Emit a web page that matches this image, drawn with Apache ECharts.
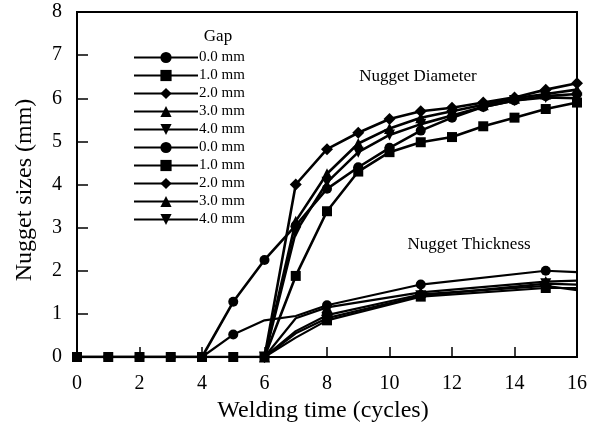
<!DOCTYPE html>
<html><head><meta charset="utf-8">
<script src="https://cdn.jsdelivr.net/npm/echarts@6/dist/echarts.min.js"></script>
<style>html,body{margin:0;padding:0;background:#fff}#c{width:592px;height:427px}</style>
</head><body><div id="c"></div>
<script>
// Diameter data (welding time in cycles, nugget diameter in mm)
const diamCycles0 = [0,1,2,3,4,5,6,7,8,9,10,11,12,13,14,15,16];
const diam00 = [0,0,0,0,0,1.28,2.25,3.05,3.9,4.4,4.85,5.25,5.55,5.8,5.95,6.05,6.1];
const diam10 = [0,0,0,0,0,0,0,1.88,3.38,4.3,4.75,4.98,5.1,5.35,5.55,5.75,5.9];
const diamCycles6 = [6,7,8,9,10,11,12,13,14,15,16];
const diam20 = [0,4.0,4.82,5.2,5.52,5.7,5.78,5.9,6.02,6.2,6.35];
const diam30 = [0,3.15,4.25,4.95,5.3,5.55,5.7,5.85,6.0,6.1,6.2];
const diam40 = [0,2.9,4.05,4.75,5.15,5.4,5.6,5.8,5.95,6.02,6.0];
// Thickness data
const thickCycles0 = [4,5,6,7,8,11,15,16];
const thick00 = [0,0.52,0.85,0.95,1.2,1.68,2.0,1.97];
const thickCycles6 = [6,7,8,11,15,16];
const thick10 = [0,0.45,0.85,1.4,1.6,1.6];
const thick20 = [0,0.6,0.97,1.45,1.65,1.55];
const thick30 = [0,0.9,1.15,1.5,1.75,1.77];
const thick40 = [0,0.55,0.9,1.42,1.7,1.68];
const thickMarked = [4,5,8,11,15];
const gapLabels = ['0.0 mm','1.0 mm','2.0 mm','3.0 mm','4.0 mm'];

const FONT = '"Liberation Serif","Times New Roman",serif';
const downTri = 'path://M0,0L2,0L1,1.8Z';
const symbols = ['circle','rect','diamond','triangle',downTri];
const symSizes = [10,10,12,11,11];

function pairs(xs, ys){ return xs.map((x,i)=>[x, ys[i]]); }
function thickPairs(xs, ys){ return xs.map((x,i)=> thickMarked.indexOf(x)>=0 ? [x,ys[i]] : {value:[x,ys[i]], symbol:'none'}); }

const diamSets = [pairs(diamCycles0,diam00), pairs(diamCycles0,diam10), pairs(diamCycles6,diam20), pairs(diamCycles6,diam30), pairs(diamCycles6,diam40)];
const thickSets = [thickPairs(thickCycles0,thick00), thickPairs(thickCycles6,thick10), thickPairs(thickCycles6,thick20), thickPairs(thickCycles6,thick30), thickPairs(thickCycles6,thick40)];

const series = [];
const legendNames = [];
diamSets.forEach((d,i)=>{
  const name = 'D ' + gapLabels[i];
  legendNames.push(name);
  series.push({type:'line', name, data:d, symbol:symbols[i], symbolSize:symSizes[i],
    lineStyle:{color:'#000', width:2.6}, itemStyle:{color:'#000'}, z:3, animation:false});
});
thickSets.forEach((d,i)=>{
  const name = 'T ' + gapLabels[i];
  legendNames.push(name);
  series.push({type:'line', name, data:d, symbol:symbols[i], symbolSize:symSizes[i],
    lineStyle:{color:'#000', width:2.2}, itemStyle:{color:'#000'}, z:3, animation:false});
});

const chart = echarts.init(document.getElementById('c'));
chart.setOption({
  backgroundColor:'#fff',
  animation:false,
  grid:{left:77, right:15, top:12, bottom:70, show:true, borderColor:'#000', borderWidth:2, containLabel:false},
  legend:{orient:'vertical', left:128, top:45, data:legendNames, selectedMode:false,
    itemWidth:64, itemHeight:14, itemGap:3,
    formatter:(n)=>n.slice(2),
    textStyle:{fontFamily:FONT, fontSize:15, color:'#000', padding:[0,0,0,-4]}},
  xAxis:{type:'value', min:0, max:16, interval:2,
    axisLine:{lineStyle:{color:'#000', width:2}},
    axisTick:{inside:true, length:10, lineStyle:{color:'#000', width:1.5}},
    axisLabel:{fontFamily:FONT, fontSize:20, color:'#000', margin:17, formatter:(v)=>String(v)},
    splitLine:{show:false}},
  yAxis:{type:'value', min:0, max:8, interval:1,
    axisLine:{lineStyle:{color:'#000', width:2}},
    axisTick:{inside:true, length:11, lineStyle:{color:'#000', width:1.5}},
    axisLabel:{fontFamily:FONT, fontSize:20, color:'#000', margin:15},
    splitLine:{show:false}},
  graphic:[
    {type:'text', x:25, y:190, rotation:Math.PI/2, style:{text:'Nugget sizes (mm)', font:'24px '+FONT, fill:'#000', align:'center', verticalAlign:'middle'}},
    {type:'text', x:323, y:411, style:{text:'Welding time (cycles)', font:'24px '+FONT, fill:'#000', align:'center', verticalAlign:'middle'}},
    {type:'text', x:218, y:37, style:{text:'Gap', font:'17px '+FONT, fill:'#000', align:'center', verticalAlign:'middle'}},
    {type:'text', x:418, y:77, style:{text:'Nugget Diameter', font:'17px '+FONT, fill:'#000', align:'center', verticalAlign:'middle'}},
    {type:'text', x:469, y:245, style:{text:'Nugget Thickness', font:'17px '+FONT, fill:'#000', align:'center', verticalAlign:'middle'}}
  ],
  series
});
</script></body></html>
